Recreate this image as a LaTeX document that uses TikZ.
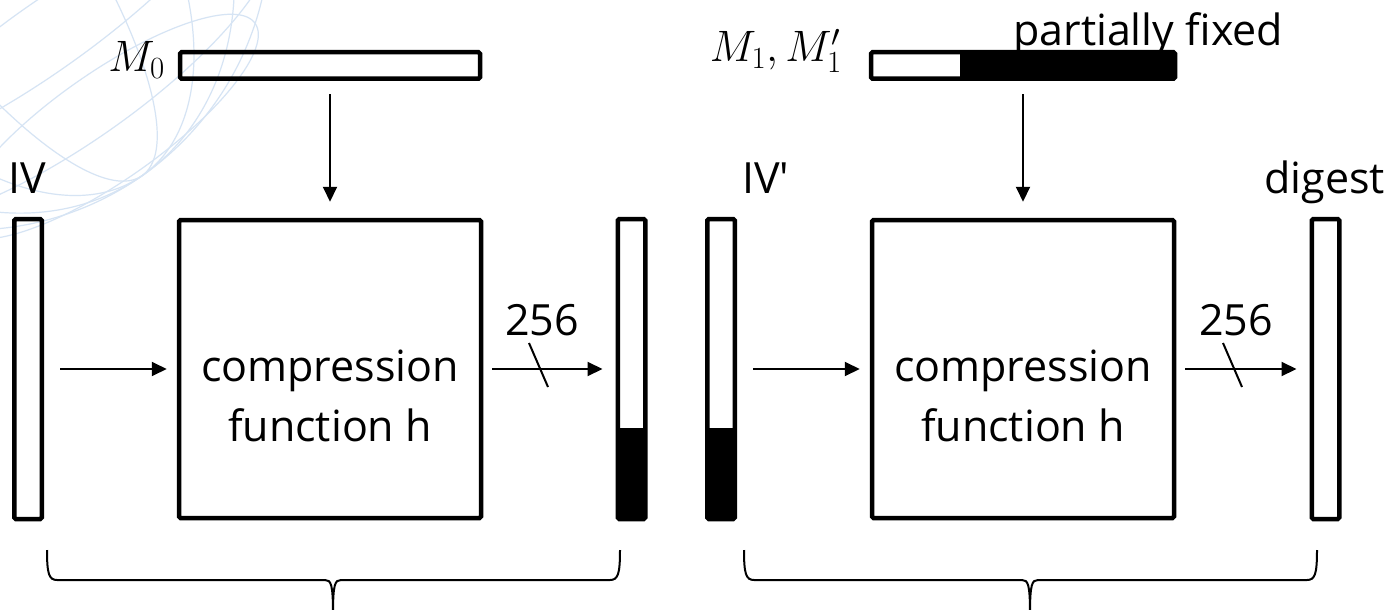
\documentclass[tikz,border=0pt]{standalone}
\usepackage{fix-cm}
\usepackage[no-math]{fontspec}
\setmainfont{Open Sans}
\usetikzlibrary{arrows.meta,positioning,calc}
\definecolor{GlobeBlue}{RGB}{214,228,244}
\tikzset{
  blockbox/.style={draw,line width=4.5pt,rounded corners=1.5pt,
    minimum width=302pt,minimum height=298pt,inner sep=0pt},
  regbar/.style={draw,line width=4.5pt,rounded corners=1.5pt,
    minimum width=27.5pt,minimum height=300pt,inner sep=0pt},
  halfbar/.style={regbar,path picture={\fill (path picture bounding box.south west)
    rectangle ([yshift=-59pt]path picture bounding box.east);}},
  msgbar/.style={draw,line width=4.5pt,rounded corners=1.5pt,
    minimum width=300pt,minimum height=26.5pt,inner sep=0pt},
  fixedbar/.style={msgbar,minimum width=304pt,path picture={\fill ([xshift=-63pt]path picture bounding box.north)
    rectangle (path picture bounding box.south east);}},
  lbl/.style={font=\fontsize{43}{60}\selectfont,inner sep=0pt},
  mlbl/.style={font=\fontsize{44}{52}\selectfont,inner sep=0pt},
  arrow/.style={-{Triangle[length=15pt,width=14pt]},line width=2pt},
  bracket/.style={line width=2pt},
  globe/.style={draw=GlobeBlue,line width=1.2pt}
}
\begin{document}
\begin{tikzpicture}[x=1pt,y=-1pt]
  \fill[white] (0,0) rectangle (1395,610);
  \useasboundingbox (0,0) rectangle (1395,610);
  % faint globe of the slide background
  \begin{scope}
    \clip (0,0) rectangle (420,330);
    \draw[globe] (-30,-70) circle (300);
    \foreach \r in {90,175,245}{
      \draw[globe,rotate around={35:(-30,-70)}] (-30,-70) ellipse ({\r} and 300);}
    \foreach \d in {-120,-20,80,170,240}{
      \draw[globe,rotate around={35:(-30,-70)}] (-30,-70+\d)
        ellipse ({100*sqrt(9-(\d/100)*(\d/100))} and {30*sqrt(9-(\d/100)*(\d/100))});}
  \end{scope}

  % blocks and registers
  \node[blockbox] (hbox1) at (330,369) {};
  \node[blockbox] (hbox2) at (1023,369) {};
  \node[regbar] (ivbar) at (28,369) {};
  \node[halfbar] (midbar) at (631.5,369) {};
  \node[halfbar] (ivpbar) at (721,369) {};
  \node[regbar] (digbar) at (1325.5,369) {};
  \node[msgbar] (msg0) at (330,65.5) {};
  \node[fixedbar] (msg1) at (1023,65.5) {};

  % labels
  \node[lbl,align=center] (htext1) at (330,396) {compression\\function h};
  \node[lbl,align=center] (htext2) at (1023,396) {compression\\function h};
  \node[lbl,anchor=base west] (ivlbl) at (8,193) {IV};
  \node[lbl,anchor=base west] (ivplbl) at (742,193) {IV\textquotesingle};
  \node[lbl,anchor=base east] (diglbl) at (1385,193) {digest};
  \node[lbl,anchor=base west] (fixlbl) at (1013,46) {partially fixed};
  \node[lbl,anchor=base] (wid1) at (542,335) {256};
  \node[lbl,anchor=base] (wid2) at (1236,335) {256};
  \node[mlbl,anchor=base east] (m0lbl) at (165,72) {$M_0$};
  \node[mlbl,anchor=base east] (m1lbl) at (842,62) {$M_1, M_1'$};

  % connectors
  \draw[arrow,shorten <=13pt,shorten >=16pt] (msg0) -- (hbox1);
  \draw[arrow,shorten <=13pt,shorten >=16pt] (msg1) -- (hbox2);
  \draw[arrow,shorten <=16pt,shorten >=10pt] (ivbar) -- (hbox1);
  \draw[arrow,shorten <=9pt,shorten >=13pt] (hbox1) -- (midbar);
  \draw[arrow,shorten <=16pt,shorten >=10pt] (ivpbar) -- (hbox2);
  \draw[arrow,shorten <=9pt,shorten >=13pt] (hbox2) -- (digbar);
  \draw[line width=2pt] (wid1.base) ++(-13,8) -- ++(19,44);
  \draw[line width=2pt] (wid2.base) ++(-13,8) -- ++(19,44);

  % braces under the two stages
  \foreach \bl/\br/\bm in {47/620/333,744/1317/1030}{
    \draw[bracket] (\bl,550) .. controls (\bl,574) and (\bl+2,580) .. (\bl+10,580)
      -- (\bm-8,580) .. controls (\bm-2,580) and (\bm,584) .. (\bm,614);
    \draw[bracket] (\br,550) .. controls (\br,574) and (\br-2,580) .. (\br-10,580)
      -- (\bm+8,580) .. controls (\bm+2,580) and (\bm,584) .. (\bm,614);}
\end{tikzpicture}
\end{document}
